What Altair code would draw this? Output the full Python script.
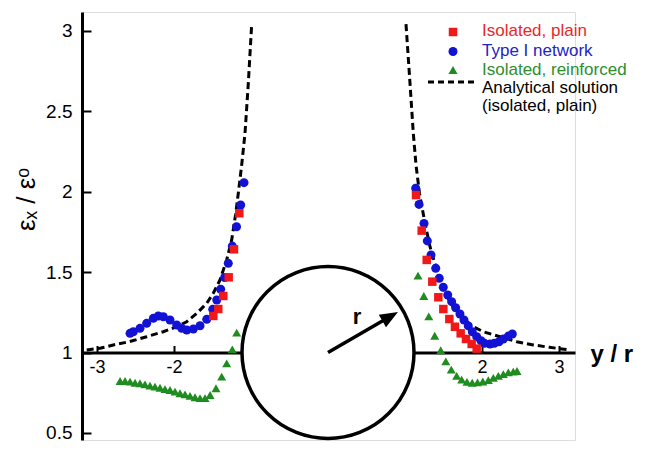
import altair as alt
import pandas as pd

# ---------------- data ----------------
series = ["Isolated, plain", "Type I network", "Isolated, reinforced"]
analytical_label = ["Analytical solution", "(isolated, plain)"]

plain_x = [-1.152, -1.221, -1.290, -1.360, -1.425, -1.490,
           1.143, 1.217, 1.282, 1.355, 1.433, 1.498, 1.576, 1.649, 1.723, 1.792, 1.866, 1.931]
plain_y = [1.865, 1.641, 1.467, 1.351, 1.270, 1.227,
           1.978, 1.757, 1.575, 1.440, 1.343, 1.270, 1.208, 1.160, 1.119, 1.084, 1.053, 1.024]

network_x = [-2.571, -2.529, -2.442, -2.355, -2.269, -2.204, -2.139, -2.052, -1.965, -1.900,
             -1.835, -1.749, -1.662, -1.575, -1.497, -1.445, -1.394, -1.342, -1.295, -1.243,
             -1.188, -1.134, -1.091,
             1.139, 1.182, 1.247, 1.290, 1.338, 1.399, 1.445, 1.497, 1.555, 1.606, 1.658, 1.714,
             1.766, 1.822, 1.874, 1.931, 1.987, 2.032, 2.104, 2.160, 2.221, 2.277, 2.342, 2.394]
network_y = [1.119, 1.129, 1.150, 1.181, 1.212, 1.227, 1.222, 1.202, 1.171, 1.150,
             1.140, 1.146, 1.166, 1.206, 1.268, 1.326, 1.393, 1.466, 1.554, 1.661,
             1.781, 1.916, 2.055,
             2.020, 1.920, 1.802, 1.693, 1.606, 1.523, 1.461, 1.405, 1.357, 1.316, 1.278, 1.239,
             1.202, 1.165, 1.129, 1.098, 1.073, 1.057, 1.053, 1.057, 1.067, 1.084, 1.102, 1.115]

reinf_x = [-2.701, -2.636, -2.571, -2.506, -2.442, -2.377, -2.312, -2.247, -2.182, -2.117,
           -2.052, -1.987, -1.922, -1.857, -1.792, -1.727, -1.662, -1.597, -1.532, -1.455,
           -1.381, -1.316, -1.243, -1.186,
           1.169, 1.244, 1.309, 1.386, 1.464, 1.530, 1.601, 1.671, 1.736, 1.805,
           1.873, 1.942, 2.010, 2.082, 2.147, 2.212, 2.277, 2.342, 2.406, 2.455]
reinf_y = [0.823, 0.823, 0.819, 0.812, 0.809, 0.802, 0.794, 0.788, 0.781, 0.773,
           0.767, 0.757, 0.747, 0.740, 0.730, 0.722, 0.716, 0.716, 0.736, 0.778,
           0.850, 0.933, 1.020, 1.123,
           1.478, 1.351, 1.225, 1.104, 1.014, 0.945, 0.894, 0.855, 0.832, 0.818,
           0.812, 0.814, 0.820, 0.829, 0.843, 0.855, 0.866, 0.876, 0.881, 0.885]

anal_left_x = [-3.134, -2.961, -2.788, -2.584, -2.355, -2.139, -1.965, -1.835, -1.705, -1.575,
               -1.490, -1.403, -1.316, -1.251, -1.201, -1.165, -1.121, -1.078, -1.035, -0.991]
anal_left_y = [1.016, 1.026, 1.047, 1.067, 1.098, 1.129, 1.160, 1.191, 1.243, 1.306,
               1.368, 1.450, 1.575, 1.699, 1.854, 1.989, 2.165, 2.361, 2.672, 3.040]
anal_right_x = [1.013, 1.065, 1.108, 1.143, 1.188, 1.260, 1.325, 1.412, 1.519, 1.649,
                1.779, 1.887, 2.017, 2.234, 2.451, 2.666, 2.877, 3.136]
anal_right_y = [3.040, 2.672, 2.361, 2.165, 1.989, 1.802, 1.657, 1.512, 1.368, 1.264,
                1.202, 1.160, 1.129, 1.098, 1.067, 1.047, 1.032, 1.016]

x_ticks = [-3, -2, 2, 3]
y_ticks = [0.5, 1, 1.5, 2, 2.5, 3]

hole_center = [0.0, 1.0]
radius_tip = [0.909, 1.252]
radius_label = "r"

# ---------------- styles / layout ----------------
FONT = "Liberation Sans"
marker_colors = ["#f01818", "#1212d4", "#1f8c1f"]
text_colors = ["#e82828", "#2323c4", "#2e8e2e"]
shapes = ["square", "circle", "triangle-up"]
sizes = [72, 81, 81]

W, H = 493, 428
XMIN, XMAX = -3.195, 3.208
YMIN, YMAX = 0.4565, 3.115
y1_px = (YMAX - 1.0) / (YMAX - YMIN) * H

xs = alt.Scale(domain=[XMIN, XMAX], nice=False, zero=False)
ys = alt.Scale(domain=[YMIN, YMAX], nice=False, zero=False)

axis_x_main = alt.Axis(orient="bottom", offset=y1_px - H, values=x_ticks, ticks=False, tickSize=0,
                       labelExpr="'' + datum.value", labelFontSize=18, labelFont=FONT,
                       labelColor="black", labelPadding=6, labelFlush=False, labelOverlap=False,
                       domainColor="black", domainWidth=3, grid=False, zindex=0,
                       title="y / r", titleFont=FONT, titleFontSize=24, titleFontWeight="bold",
                       titleColor="black", titleAngle=0, titleAlign="left",
                       titleBaseline="alphabetic", titleX=508, titleY=9)
axis_y_main = alt.Axis(orient="left", values=y_ticks, ticks=False, tickSize=0,
                       labelExpr="'' + datum.value", labelFontSize=19, labelFont=FONT,
                       labelColor="black", labelPadding=10, labelFlush=False, labelOverlap=False,
                       domainColor="black", domainWidth=3, grid=False, zindex=0,
                       title="εₓ / εᵒ", titleFont=FONT, titleFontSize=26,
                       titleFontWeight="normal", titleColor="black", titleAngle=270,
                       titleAlign="center", titleBaseline="middle", titleX=-56, titleY=187)
axis_x_ticks = alt.Axis(orient="top", offset=-y1_px, values=x_ticks, tickSize=7, tickWidth=2,
                        tickColor="black", labels=False, domain=False, grid=False, zindex=0,
                        title="")
axis_y_ticks = alt.Axis(orient="right", offset=-W, values=y_ticks, tickSize=9, tickWidth=2,
                        tickColor="black", labels=False, domain=False, grid=False, zindex=0,
                        title="")

# ---------------- frames ----------------
df_line = pd.concat([
    pd.DataFrame({"x": anal_left_x, "y": anal_left_y, "branch": "left",
                  "i": range(len(anal_left_x))}),
    pd.DataFrame({"x": anal_right_x, "y": anal_right_y, "branch": "right",
                  "i": range(len(anal_right_x))}),
], ignore_index=True)

df_plain = pd.DataFrame({"x": plain_x, "y": plain_y})
df_net = pd.DataFrame({"x": network_x, "y": network_y})
df_reinf = pd.DataFrame({"x": reinf_x, "y": reinf_y})

df_hole = pd.DataFrame({"x": [hole_center[0]], "y": [hole_center[1]]})
shaft_end = [hole_center[0] + 0.82 * (radius_tip[0] - hole_center[0]),
             hole_center[1] + 0.82 * (radius_tip[1] - hole_center[1])]
df_shaft = pd.DataFrame({"x": [hole_center[0]], "y": [hole_center[1]],
                         "x2": [shaft_end[0]], "y2": [shaft_end[1]]})
df_tip = pd.DataFrame({"x": [radius_tip[0]], "y": [radius_tip[1]]})
df_r = pd.DataFrame({"x": [0.377], "y": [1.18], "t": [radius_label]})

# ---------------- layers ----------------
hole = alt.Chart(df_hole).mark_circle(size=29584, fill="white", stroke="black",
                                      strokeWidth=3.5, opacity=1).encode(
    x=alt.X("x:Q", scale=xs, axis=None), y=alt.Y("y:Q", scale=ys, axis=None))

line = alt.Chart(df_line).mark_line(color="black", strokeDash=[7, 4], strokeWidth=3).encode(
    x=alt.X("x:Q", scale=xs, axis=axis_x_main),
    y=alt.Y("y:Q", scale=ys, axis=axis_y_main),
    detail="branch:N", order="i:Q")

def pts(df, k, axx=None, axy=None):
    return alt.Chart(df).mark_point(filled=True, opacity=1, shape=shapes[k], size=sizes[k],
                                    color=marker_colors[k]).encode(
        x=alt.X("x:Q", scale=xs, axis=axx), y=alt.Y("y:Q", scale=ys, axis=axy))

reinf = pts(df_reinf, 2, axis_x_ticks, axis_y_ticks)
net = pts(df_net, 1)
plain = pts(df_plain, 0)

shaft = alt.Chart(df_shaft).mark_rule(color="black", strokeWidth=3.5).encode(
    x=alt.X("x:Q", scale=xs, axis=None), y=alt.Y("y:Q", scale=ys, axis=None),
    x2="x2:Q", y2="y2:Q")
head = alt.Chart(df_tip).mark_point(shape="M0,0L0.4,1L-0.4,1Z", size=1296, angle=60,
                                    filled=True, color="black", opacity=1).encode(
    x=alt.X("x:Q", scale=xs, axis=None), y=alt.Y("y:Q", scale=ys, axis=None))
rlab = alt.Chart(df_r).mark_text(font=FONT, fontSize=22, fontWeight="bold", color="black",
                                 align="center", baseline="alphabetic").encode(
    x=alt.X("x:Q", scale=xs, axis=None), y=alt.Y("y:Q", scale=ys, axis=None), text="t:N")

# ---------------- legend ----------------
LX_SYM, LX_TXT = 371, 400
sym_y = [20, 39.5, 58]
txt_y = [19, 38.5, 57.5, 75.5, 94]
legend_layers = []
for k in range(3):
    d = pd.DataFrame({"t": [series[k]]})
    legend_layers.append(alt.Chart(d).mark_point(filled=True, opacity=1, shape=shapes[k],
                                                 size=sizes[k], color=marker_colors[k]).encode(
        x=alt.value(LX_SYM), y=alt.value(sym_y[k])))
    legend_layers.append(alt.Chart(d).mark_text(font=FONT, fontSize=17, color=text_colors[k],
                                                align="left", baseline="middle").encode(
        x=alt.value(LX_TXT), y=alt.value(txt_y[k]), text="t:N"))
for j, lab in enumerate(analytical_label):
    d = pd.DataFrame({"t": [lab]})
    legend_layers.append(alt.Chart(d).mark_text(font=FONT, fontSize=17, color="black",
                                                align="left", baseline="middle").encode(
        x=alt.value(LX_TXT), y=alt.value(txt_y[3 + j]), text="t:N"))
legend_layers.append(alt.Chart(pd.DataFrame({"t": [analytical_label[0]]})).mark_rule(
    color="black", strokeDash=[6, 4], strokeWidth=3).encode(
    x=alt.value(346), x2=alt.value(396), y=alt.value(70)))

chart = alt.layer(line, hole, reinf, net, plain, shaft, head, rlab, *legend_layers).resolve_axis(
    x="independent", y="independent"
).properties(
    width=W, height=H,
    padding={"left": 74, "top": 4, "right": 60, "bottom": 4},
    autosize=alt.AutoSizeParams(type="none"),
    background="white",
).configure_view(stroke=None).configure(font=FONT)

chart.save("out.html", embed_options={"renderer": "svg", "actions": False})
